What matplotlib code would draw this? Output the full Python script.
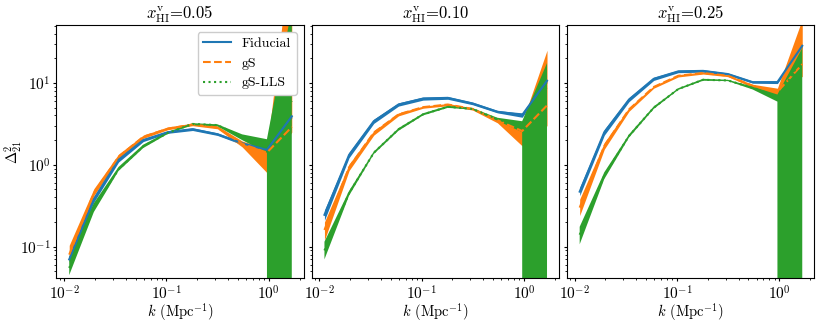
import numpy as np
import matplotlib
matplotlib.use('Agg')
import matplotlib.pyplot as plt
from matplotlib.lines import Line2D

plt.rcParams['font.family'] = 'serif'
plt.rcParams['font.serif'] = ['cmr10', 'DejaVu Serif']
plt.rcParams['mathtext.fontset'] = 'cm'
plt.rcParams['axes.formatter.use_mathtext'] = True
plt.rcParams['font.size'] = 10

# wavenumbers (Mpc^-1)
k = [0.0112, 0.0195, 0.034, 0.0593, 0.103, 0.18, 0.315, 0.55, 0.96, 1.68]

titles = [r'$x_{\rm HI}^{\rm v}$=0.05', r'$x_{\rm HI}^{\rm v}$=0.10', r'$x_{\rm HI}^{\rm v}$=0.25']
labels = ['Fiducial', 'gS', 'gS-LLS']

# x_HI = 0.05
fid_05 = [0.07, 0.38, 1.15, 2.0, 2.5, 2.72, 2.36, 1.83, 1.52, 3.9]
fid_05_lo = [0.066, 0.35, 1.08, 1.92, 2.42, 2.62, 2.28, 1.76, 1.45, 3.7]
fid_05_hi = [0.075, 0.41, 1.22, 2.08, 2.58, 2.82, 2.45, 1.9, 1.6, 4.1]
gs_05 = [0.08, 0.45, 1.25, 2.2, 2.75, 3.1, 2.85, 1.8, 1.41, 2.89]
gs_05_lo = [0.065, 0.42, 1.18, 2.1, 2.68, 3.0, 2.75, 1.65, 0.8, 2.5]
gs_05_hi = [0.104, 0.51, 1.35, 2.3, 2.9, 3.22, 2.98, 1.95, 1.55, 500]
lls_05 = [0.055, 0.3, 0.88, 1.68, 2.45, 3.15, 3.05, 2.2, 1.8, 6.0]
lls_05_lo = [0.045, 0.265, 0.84, 1.6, 2.38, 3.05, 2.95, 2.0, 1.4, 0.0]
lls_05_hi = [0.075, 0.34, 0.94, 1.76, 2.52, 3.22, 3.12, 2.35, 2.05, 80]

# x_HI = 0.10
fid_10 = [0.245, 1.32, 3.4, 5.44, 6.43, 6.56, 5.6, 4.44, 4.05, 10.6]
fid_10_lo = [0.21, 1.22, 3.2, 5.2, 6.15, 6.3, 5.4, 4.3, 3.8, 10.0]
fid_10_hi = [0.28, 1.42, 3.6, 5.7, 6.7, 6.8, 5.8, 4.6, 4.3, 11.2]
gs_10 = [0.16, 0.93, 2.47, 4.12, 5.05, 5.44, 4.8, 3.5, 2.58, 5.3]
gs_10_lo = [0.12, 0.85, 2.3, 3.95, 4.9, 5.25, 4.65, 3.25, 1.7, 3.0]
gs_10_hi = [0.2, 1.02, 2.6, 4.3, 5.2, 5.6, 4.95, 3.65, 3.3, 25]
lls_10 = [0.09, 0.45, 1.4, 2.71, 4.12, 5.1, 4.8, 3.6, 2.9, 9.0]
lls_10_lo = [0.07, 0.42, 1.35, 2.6, 4.0, 4.95, 4.7, 3.45, 2.5, 0.0]
lls_10_hi = [0.115, 0.48, 1.45, 2.8, 4.25, 5.25, 4.9, 3.75, 3.4, 17.4]

# x_HI = 0.25
fid_25 = [0.47, 2.5, 6.26, 11.2, 13.8, 14.0, 12.8, 10.2, 10.2, 28.3]
fid_25_lo = [0.42, 2.3, 5.9, 10.7, 13.3, 13.5, 12.4, 9.9, 9.8, 27]
fid_25_hi = [0.53, 2.7, 6.6, 11.7, 14.3, 14.5, 13.2, 10.5, 10.6, 30]
gs_25 = [0.3, 1.7, 4.73, 8.9, 12.2, 13.2, 12.2, 9.2, 7.7, 16.9]
gs_25_lo = [0.24, 1.55, 4.5, 8.6, 11.8, 12.8, 11.9, 8.8, 7.0, 12]
gs_25_hi = [0.38, 1.87, 5.0, 9.2, 12.6, 13.6, 12.5, 9.6, 8.6, 60]
lls_25 = [0.14, 0.74, 2.25, 4.97, 8.4, 10.9, 10.7, 8.7, 6.5, 20]
lls_25_lo = [0.107, 0.67, 2.15, 4.8, 8.2, 10.6, 10.5, 8.3, 5.9, 0.0]
lls_25_hi = [0.175, 0.81, 2.35, 5.15, 8.6, 11.2, 10.9, 9.0, 7.2, 26.5]

panels = [
    [(fid_05, fid_05_lo, fid_05_hi), (gs_05, gs_05_lo, gs_05_hi), (lls_05, lls_05_lo, lls_05_hi)],
    [(fid_10, fid_10_lo, fid_10_hi), (gs_10, gs_10_lo, gs_10_hi), (lls_10, lls_10_lo, lls_10_hi)],
    [(fid_25, fid_25_lo, fid_25_hi), (gs_25, gs_25_lo, gs_25_hi), (lls_25, lls_25_lo, lls_25_hi)],
]
colors = ['C0', 'C1', 'C2']
styles = ['-', '--', ':']

fig, axes = plt.subplots(1, 3, figsize=(8.3, 3.23), dpi=100, sharey=True)
fig.subplots_adjust(left=0.068, right=0.981, bottom=0.138, top=0.923, wspace=0.032)

for ax, series, title in zip(axes, panels, titles):
    # bands first, then the median lines on top
    for (mid, lo, hi), c in zip(series, colors):
        ax.fill_between(k, lo, hi, color=c, lw=0)
    for (mid, lo, hi), c, ls in zip(series, colors, styles):
        ax.plot(k, mid, color=c, ls=ls, lw=1.5)
    ax.set_xscale('log')
    ax.set_yscale('log')
    ax.set_xlim(0.0084, 2.2)
    ax.set_ylim(0.041, 51)
    ax.set_title(title, fontsize=12, pad=4)
    ax.set_xlabel(r'$k$ (Mpc$^{-1}$)', fontsize=10.5, labelpad=-1)
    ax.tick_params(which='major', length=2.5, pad=1.5, labelsize=11)
    ax.tick_params(which='minor', length=1.5)

axes[0].set_ylabel(r'$\Delta^2_{21}$', fontsize=10.5)
axes[0].yaxis.set_label_coords(-0.13, 0.5)
handles = [Line2D([], [], color=c, ls=ls, lw=1.5) for c, ls in zip(colors, styles)]
axes[0].legend(handles, labels, loc='upper right', fontsize=10, framealpha=1)

plt.savefig('out.png')
